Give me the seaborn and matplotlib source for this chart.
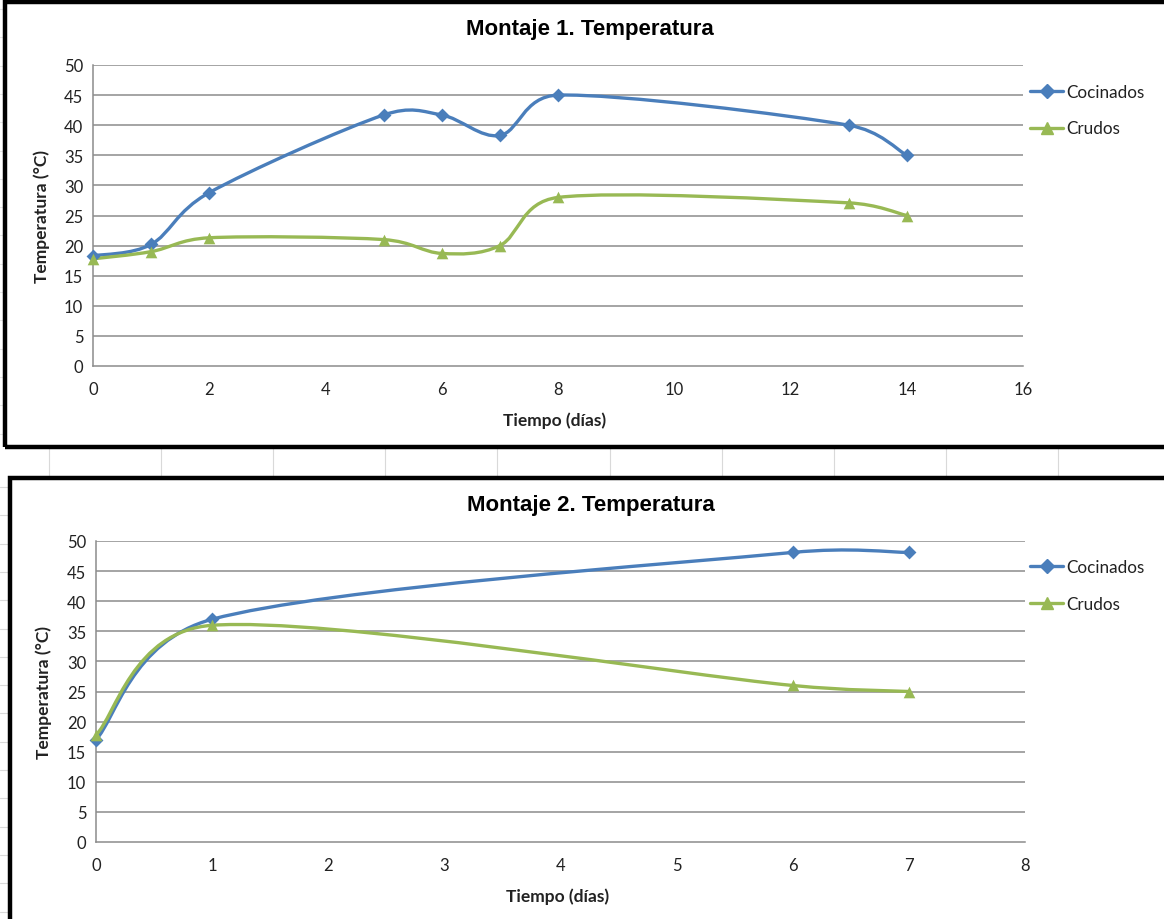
import numpy as np
import pandas as pd
import matplotlib
matplotlib.use("Agg")
import matplotlib.pyplot as plt
import seaborn as sns
from matplotlib.path import Path
from matplotlib.patches import PathPatch, Rectangle
from matplotlib.lines import Line2D

# ---------------- data ----------------
dias_1 = [0, 1, 2, 5, 6, 7, 8, 13, 14]
cocinados_1 = [18.3, 20.2, 28.8, 41.7, 41.7, 38.3, 45.0, 40.0, 35.0]
crudos_1 = [17.8, 19.0, 21.3, 21.0, 18.7, 20.0, 28.0, 27.1, 25.0]

dias_2 = [0, 1, 6, 7]
cocinados_2 = [17.0, 37.0, 48.1, 48.1]
crudos_2 = [17.8, 36.0, 26.0, 25.0]

series_names = ["Cocinados", "Crudos"]
titles = ["Montaje 1. Temperatura", "Montaje 2. Temperatura"]
xlabel = "Tiempo (días)"
ylabel = "Temperatura (°C)"
y_ticks = [0, 5, 10, 15, 20, 25, 30, 35, 40, 45, 50]
x_ticks_1 = [0, 2, 4, 6, 8, 10, 12, 14, 16]
x_ticks_2 = [0, 1, 2, 3, 4, 5, 6, 7, 8]

BLUE = "#4A7EBB"
GREEN = "#98B954"
GRID = "#8C8C8C"

sns.set_style("white")
plt.rcParams["font.family"] = ["Lato", "DejaVu Sans"]

W, H = 1164, 920
fig = plt.figure(figsize=(W / 100, H / 100), dpi=100)
fig.patch.set_facecolor("white")


def fx(x):
    return x / W


def fy(y):
    return 1 - y / H


def excel_smooth_path(ax, x, y):
    """Bezier smoothing in the style of spreadsheet 'smoothed line' charts,
    computed in display space and mapped back to data coordinates."""
    pts = ax.transData.transform(np.column_stack([x, y]).astype(float))
    n = len(pts)
    verts = [pts[0]]
    codes = [Path.MOVETO]
    f = 1 / 6
    for i in range(n - 1):
        p0 = pts[i - 1] if i > 0 else pts[i]
        p1 = pts[i]
        p2 = pts[i + 1]
        p3 = pts[i + 2] if i + 2 < n else pts[i + 1]
        d12 = np.linalg.norm(p2 - p1)
        d02 = np.linalg.norm(p2 - p0)
        d13 = np.linalg.norm(p3 - p1)
        f0 = f if d02 * f < d12 / 2 else (d12 / 2) / d02
        f1 = f if d13 * f < d12 / 2 else (d12 / 2) / d13
        c1 = p1 + (p2 - p0) * f0
        c2 = p2 - (p3 - p1) * f1
        verts += [c1, c2, p2]
        codes += [Path.CURVE4] * 3
    verts = ax.transData.inverted().transform(np.array(verts))
    return Path(verts, codes)


# faint spreadsheet cell lines in background
for k in range(11):
    xx = 48.6 + 112.2 * k
    fig.add_artist(Line2D([fx(xx), fx(xx)], [fy(448), fy(478)], color="#D9D9D9", lw=0.8, zorder=0))
for k in range(16):
    yy = 488 + 28.3 * k
    fig.add_artist(Line2D([fx(0), fx(9)], [fy(yy), fy(yy)], color="#D9D9D9", lw=0.8, zorder=0))
    yy2 = 10 + 28.3 * k
    if yy2 < 440:
        fig.add_artist(Line2D([fx(0), fx(4)], [fy(yy2), fy(yy2)], color="#E3E3E3", lw=0.8, zorder=0))

# panel borders
fig.add_artist(Rectangle((fx(5), fy(448)), fx(1175) - fx(5), fy(3) - fy(448),
                         fill=False, ec="black", lw=3.2, zorder=1))
fig.add_artist(Rectangle((fx(10), fy(935)), fx(1175) - fx(10), fy(479) - fy(935),
                         fill=False, ec="black", lw=3.2, zorder=1))

panels = [
    dict(rect=(93, 66, 1023, 367), x=dias_1, c=cocinados_1, r=crudos_1, xt=x_ticks_1,
         xlim=(0, 16), title=titles[0], title_xy=(590, 30), xl_y=421, yl_x=42, leg_y=91),
    dict(rect=(96, 542, 1025, 843), x=dias_2, c=cocinados_2, r=crudos_2, xt=x_ticks_2,
         xlim=(0, 8), title=titles[1], title_xy=(591, 506), xl_y=897, yl_x=44, leg_y=566),
]

for p in panels:
    x0, y0, x1, y1 = p["rect"]
    ax = fig.add_axes([fx(x0), fy(y1), fx(x1) - fx(x0), fy(y0) - fy(y1)])
    ax.set_facecolor("none")
    ax.set_xlim(*p["xlim"])
    ax.set_ylim(0, 50)
    ax.set_yticks(y_ticks)
    ax.set_xticks(p["xt"])
    for v in y_ticks[1:]:
        ax.axhline(v, color=GRID, lw=1.1, zorder=1)
    for s in ["top", "right"]:
        ax.spines[s].set_visible(False)
    for s in ["left", "bottom"]:
        ax.spines[s].set_color(GRID)
        ax.spines[s].set_linewidth(1.1)
    ax.tick_params(axis="both", direction="out", length=5, width=1, color=GRID,
                   labelsize=12, labelcolor="#222222")
    ax.tick_params(axis="x", pad=6)
    ax.tick_params(axis="y", pad=2)

    df = pd.DataFrame({"dias": p["x"], "Cocinados": p["c"], "Crudos": p["r"]})
    for name, col, mk, ms in [("Cocinados", BLUE, "D", 50), ("Crudos", GREEN, "^", 70)]:
        path = excel_smooth_path(ax, df["dias"].values, df[name].values)
        ax.add_patch(PathPatch(path, fill=False, ec=col, lw=2.4, zorder=3,
                               capstyle="round", joinstyle="round"))
        sns.scatterplot(data=df, x="dias", y=name, ax=ax, marker=mk, s=ms, color=col,
                        edgecolor=col, linewidth=0, zorder=4, legend=False, clip_on=False)

    ax.set_xlabel("")
    ax.set_ylabel("")
    fig.text(fx(p["title_xy"][0]), fy(p["title_xy"][1]), p["title"], ha="center", va="center",
             fontsize=16, fontweight="bold", family=["Liberation Sans", "DejaVu Sans"], color="black")
    fig.text(fx((x0 + x1) / 2 - 3), fy(p["xl_y"]), xlabel, ha="center", va="center",
             fontsize=12.5, fontweight="bold", color="#222222")
    fig.text(fx(p["yl_x"]), fy((y0 + y1) / 2), ylabel, ha="center", va="center",
             rotation=90, fontsize=12.5, fontweight="bold", color="#222222")

    handles = [Line2D([0], [0], color=BLUE, lw=2.4, marker="D", markersize=7),
               Line2D([0], [0], color=GREEN, lw=2.4, marker="^", markersize=9)]
    ax.legend(handles, series_names, loc="upper left",
              bbox_to_anchor=(fx(1030), fy(p["leg_y"] - 6)), bbox_transform=fig.transFigure,
              frameon=False, fontsize=12.3, handlelength=1.95, handletextpad=0.15,
              labelspacing=1.2, borderpad=0, borderaxespad=0, labelcolor="#222222")

fig.savefig("out.png", dpi=100, facecolor="white")
